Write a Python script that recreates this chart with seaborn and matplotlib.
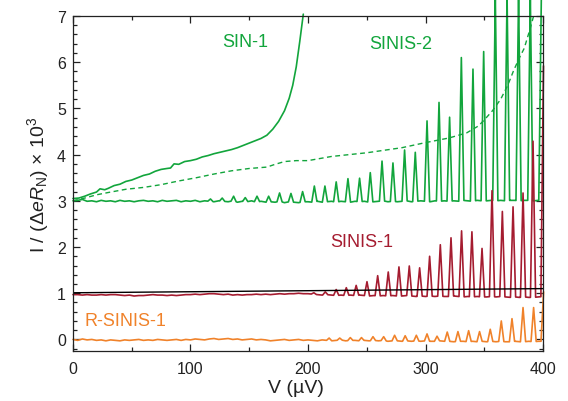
import numpy as np
import pandas as pd
import matplotlib
matplotlib.use("Agg")
import matplotlib.pyplot as plt
from matplotlib.ticker import MultipleLocator
import seaborn as sns

# ---------------- data ----------------
# SIN-1 (solid green, rising curve)
sin1_v = [0, 5, 10, 15, 20, 23, 27, 30, 35, 40, 45, 50, 55, 60, 65, 70, 75, 80, 83, 86,
          90, 95, 100, 105, 110, 115, 120, 125, 130, 135, 140, 145, 150, 155, 160, 165,
          170, 175, 180, 184, 187, 190, 193, 196]
sin1_i = [3.05, 3.06, 3.10, 3.15, 3.19, 3.26, 3.24, 3.27, 3.33, 3.36, 3.42, 3.45, 3.50, 3.55,
          3.58, 3.64, 3.68, 3.70, 3.71, 3.80, 3.79, 3.85, 3.87, 3.90, 3.95, 3.98, 4.02, 4.05,
          4.08, 4.11, 4.15, 4.20, 4.25, 4.30, 4.35, 4.42, 4.55, 4.72, 4.95, 5.22, 5.50, 5.90,
          6.45, 7.04]

# dashed green curve
dash_v = [0, 10, 20, 30, 45, 60, 75, 90, 105, 120, 135, 150, 165, 172, 180, 190, 200, 220,
          250, 280, 300, 320, 335, 345, 350, 357, 364, 370, 375, 380, 384, 389, 392]
dash_i = [3.00, 3.06, 3.13, 3.18, 3.25, 3.29, 3.35, 3.43, 3.50, 3.58, 3.65, 3.70, 3.73, 3.79,
          3.85, 3.87, 3.87, 3.96, 4.04, 4.15, 4.26, 4.36, 4.47, 4.62, 4.75, 4.95, 5.20, 5.50,
          5.82, 6.10, 6.30, 6.72, 7.00]

# common voltage grid of the traced baselines
base_v = list(range(0, 401, 4))

# SINIS-2 (green) baseline and peaks
sinis2_base = [3.00, 3.01, 3.03, 2.99, 3.00, 2.98, 3.01, 2.99, 3.00, 2.98,
               3.01, 2.99, 3.00, 2.98, 3.00, 3.01, 2.99, 3.00, 2.98, 3.01,
               2.99, 3.00, 3.01, 2.98, 3.00, 2.99, 3.01, 2.98, 3.00, 2.99,
               2.98, 3.00, 2.99, 2.98, 3.00, 2.97, 2.99, 2.98, 3.00, 2.97,
               2.99, 2.97, 2.98, 2.97, 2.99, 2.96, 2.98, 2.97, 2.96, 2.98,
               2.98, 2.97, 2.99, 2.97, 2.98, 2.99, 2.97, 2.99, 2.98, 2.97,
               2.99, 2.98, 2.99, 2.97, 2.98, 2.99, 3.00, 2.98, 2.99, 2.98,
               2.99, 3.00, 2.98, 2.99, 3.00, 2.99, 2.98, 3.00, 2.99, 3.00,
               2.99, 3.00, 2.99, 3.01, 3.00, 2.99, 3.01, 3.00, 3.00, 3.01,
               3.00, 3.01, 3.00, 3.01, 3.01, 3.00, 3.01, 3.01, 3.00, 3.01,
               3.02]
sinis2_pk_v = [117, 127, 136.7, 146.6, 156.6, 166.5, 175.8, 185.5, 195.4, 205.4, 214.4, 224.0,
               234.0, 243.9, 253.0, 263.0, 272.3, 282.2, 291.3, 301.3, 311.5, 320.5, 330.5,
               340.4, 349.5, 359.4, 369.4, 379.2, 389.2, 398.6]
sinis2_pk_i = [3.04, 3.06, 3.10, 3.07, 3.10, 3.10, 3.17, 3.16, 3.20, 3.32, 3.32, 3.41,
               3.48, 3.49, 3.61, 3.86, 3.82, 4.10, 4.05, 4.73, 5.13, 4.81, 6.10,
               5.85, 6.23, 7.45, 7.45, 7.45, 7.45, 7.45]

# SINIS-1 (dark red) baseline and peaks
sinis1_base = [0.97, 0.97, 0.96, 0.97, 0.96, 0.96, 0.97, 0.96, 0.97, 0.97,
               0.96, 0.95, 0.96, 0.94, 0.95, 0.95, 0.96, 0.97, 0.96, 0.96,
               0.95, 0.96, 0.95, 0.96, 0.97, 0.97, 0.98, 0.97, 0.98, 0.99,
               0.99, 0.98, 0.97, 0.98, 0.96, 0.97, 0.96, 0.97, 0.97, 0.98,
               0.97, 0.98, 0.97, 0.98, 0.99, 0.98, 0.99, 0.99, 1.00, 0.99,
               0.99, 0.98, 0.97, 0.96, 0.97, 0.96, 0.95, 0.96, 0.95, 0.96,
               0.95, 0.96, 0.95, 0.94, 0.95, 0.94, 0.95, 0.94, 0.95, 0.94,
               0.94, 0.95, 0.94, 0.93, 0.94, 0.93, 0.94, 0.93, 0.94, 0.93,
               0.93, 0.94, 0.93, 0.92, 0.93, 0.92, 0.93, 0.92, 0.92, 0.93,
               0.92, 0.93, 0.92, 0.91, 0.92, 0.91, 0.92, 0.91, 0.91, 0.92,
               0.93]
sinis1_pk_v = [205.0, 214.7, 224.0, 232.6, 241.0, 250.2, 259.3, 268.3, 277.4, 286.2, 295.0,
               303.5, 312.6, 321.7, 330.7, 339.5, 348.1, 356.6, 365.4, 374.5, 383.0, 391.5,
               400.4]
sinis1_pk_i = [1.01, 1.03, 1.08, 1.12, 1.17, 1.25, 1.38, 1.46, 1.57, 1.59, 1.55,
               1.80, 2.05, 2.20, 2.35, 2.33, 1.97, 3.22, 2.77, 2.87, 3.17, 4.29,
               5.92]

# R-SINIS-1 (orange) baseline and peaks
rsinis1_base = [0.00, -0.02, 0.01, -0.01, 0.00, -0.02, -0.01, -0.03, -0.01, -0.02,
                -0.03, -0.01, -0.02, -0.01, 0.00, -0.02, -0.01, -0.02, 0.00, -0.01,
                -0.02, -0.01, 0.00, -0.02, 0.00, -0.01, 0.01, 0.00, -0.01, 0.01,
                0.02, 0.00, 0.01, 0.02, 0.00, 0.01, -0.01, 0.00, 0.01, -0.01,
                0.00, -0.01, -0.03, -0.02, -0.01, 0.00, -0.02, -0.01, 0.00, -0.02,
                -0.01, -0.02, -0.03, -0.01, -0.02, -0.03, -0.02, -0.01, -0.03, -0.02,
                -0.02, -0.03, -0.02, -0.03, -0.02, -0.03, -0.02, -0.04, -0.03, -0.03,
                -0.04, -0.03, -0.04, -0.03, -0.04, -0.03, -0.04, -0.04, -0.03, -0.04,
                -0.04, -0.05, -0.04, -0.04, -0.05, -0.04, -0.05, -0.04, -0.05, -0.04,
                -0.05, -0.04, -0.05, -0.05, -0.04, -0.05, -0.05, -0.04, -0.05, -0.04,
                -0.04]
rsinis1_pk_v = [218.0, 227.0, 236.0, 245.5, 255.3, 264.4, 273.7, 282.7, 292.2, 301.3, 309.8,
                318.5, 327.6, 336.7, 346.0, 355.1, 364.5, 373.6, 383.0, 392.0, 400.5]
rsinis1_pk_i = [0.03, 0.03, 0.04, 0.04, 0.06, 0.06, 0.09, 0.08, 0.09, 0.12, 0.07,
                0.16, 0.17, 0.19, 0.17, 0.22, 0.40, 0.45, 0.69, 0.69, 1.03]
peak_halfwidth = 2.2  # µV, read half-width of the peaks at their base
v_end = 400.6         # last recorded voltage

# black reference line
ref_v = [0, 400]
ref_i = [1.01, 1.10]

# annotation labels
labels = ["SIN-1", "SINIS-2", "SINIS-1", "R-SINIS-1"]
label_v = [146.6, 278.6, 246.0, 44.5]
label_i = [6.44, 6.40, 2.12, 0.41]

GREEN = "#12A53C"
RED = "#A51C30"
ORANGE = "#F0822A"
label_colors = [GREEN, GREEN, RED, ORANGE]


def trace(bv, bi, pv, pi, hw):
    """Join a traced baseline with the traced peaks into one polyline."""
    bv = np.asarray(bv, float)
    bi = np.asarray(bi, float)
    pv = np.asarray(pv, float)
    keep = np.all(np.abs(bv[:, None] - pv[None, :]) > hw, axis=1)
    xs = list(bv[keep])
    ys = list(bi[keep])
    for p, h in zip(pv, pi):
        for x, y in ((p - hw, np.interp(p - hw, bv, bi)), (p, h),
                     (p + hw, np.interp(p + hw, bv, bi))):
            xs.append(x)
            ys.append(y)
    xs = np.asarray(xs)
    ys = np.asarray(ys)
    order = np.argsort(xs, kind="stable")
    xs, ys = xs[order], ys[order]
    m = xs <= v_end
    return pd.DataFrame({"V": xs[m], "I": ys[m]})


sns.set_style("ticks")
plt.rcParams["font.family"] = ["Liberation Sans", "DejaVu Sans"]
plt.rcParams["mathtext.fontset"] = "custom"
plt.rcParams["mathtext.rm"] = "Liberation Sans"
plt.rcParams["mathtext.it"] = "Liberation Sans:italic"
plt.rcParams["mathtext.bf"] = "Liberation Sans:bold"

fig = plt.figure(figsize=(5.68, 4.02), dpi=100)
ax = fig.add_axes([0.1285, 0.1244, 0.956 - 0.1285, 0.9577 - 0.1244])

lw = 1.2
df_or = trace(base_v, rsinis1_base, rsinis1_pk_v, rsinis1_pk_i, peak_halfwidth)
sns.lineplot(data=df_or, x="V", y="I", ax=ax, color=ORANGE, lw=lw,
             estimator=None, sort=False, clip_on=False)

df_g2 = trace(base_v, sinis2_base, sinis2_pk_v, sinis2_pk_i, peak_halfwidth)
sns.lineplot(data=df_g2, x="V", y="I", ax=ax, color=GREEN, lw=lw,
             estimator=None, sort=False, clip_on=False)

sns.lineplot(x=dash_v, y=dash_i, ax=ax, color=GREEN, lw=1.0,
             linestyle=(0, (3.5, 2.5)), estimator=None, sort=False, clip_on=False)
sns.lineplot(x=sin1_v, y=sin1_i, ax=ax, color=GREEN, lw=lw,
             estimator=None, sort=False, clip_on=False)

df_r1 = trace(base_v, sinis1_base, sinis1_pk_v, sinis1_pk_i, peak_halfwidth)
sns.lineplot(data=df_r1, x="V", y="I", ax=ax, color=RED, lw=lw,
             estimator=None, sort=False, clip_on=False)

sns.lineplot(x=ref_v, y=ref_i, ax=ax, color="black", lw=1.0,
             estimator=None, sort=False)

for t, x, y, c in zip(labels, label_v, label_i, label_colors):
    ax.text(x, y, t, color=c, fontsize=13, ha="center", va="center")

ax.set_xlim(0, 400)
ax.set_ylim(-0.25, 7)
ax.xaxis.set_major_locator(MultipleLocator(100))
ax.xaxis.set_minor_locator(MultipleLocator(50))
ax.yaxis.set_major_locator(MultipleLocator(1))
ax.yaxis.set_minor_locator(MultipleLocator(0.2))
ax.tick_params(which="both", direction="in", top=True, right=True,
               colors="#222222", labelsize=11.5, width=0.9)
ax.tick_params(which="major", length=5)
ax.tick_params(which="minor", length=3)
ax.tick_params(axis="x", which="major", pad=7)
ax.tick_params(axis="y", which="major", pad=5)
for s in ax.spines.values():
    s.set_color("#222222")
    s.set_linewidth(0.9)

ax.set_xlabel("V (µV)", fontsize=14, labelpad=4, color="#222222")
ax.xaxis.set_label_coords((296 - 72.7) / 470.0, -0.085)
ax.set_ylabel(r"I / ($\mathit{\Delta eR}_{\mathrm{N}}$) $\times$ 10$^{3}$",
              fontsize=14, labelpad=4, color="#222222")

fig.savefig("out.png", dpi=100)
